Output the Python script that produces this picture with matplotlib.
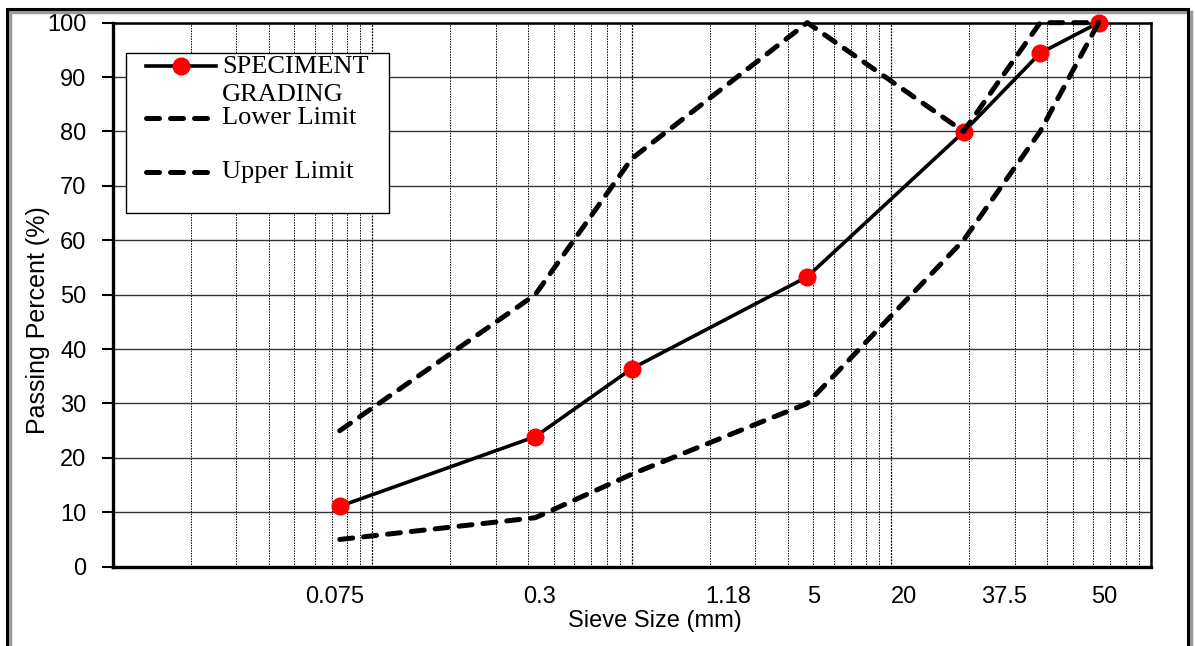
import matplotlib.pyplot as plt
from matplotlib.lines import Line2D
from matplotlib.patches import Rectangle

# sieve sizes (mm) and passing percent
sieve = [0.075, 0.425, 1.0, 4.75, 19.0, 37.5, 63.0]
specimen = [11.1, 23.9, 36.4, 53.3, 79.9, 94.4, 100.0]
lower = [5, 9, 17, 30, 60, 80, 100]
upper = [25, 50, 75, 100, 80, 100, 100]

tick_labels = ["0.075", "0.3", "1.18", "5", "20", "37.5", "50"]
tick_pos = [0.0716, 0.44, 2.35, 5.02, 11.25, 27.3, 66.1]
legend_labels = ["SPECIMENT\nGRADING", "Lower Limit", "Upper Limit"]

sans = ["Liberation Sans", "DejaVu Sans"]
serif = ["Liberation Serif", "DejaVu Serif"]

fig = plt.figure(figsize=(11.95, 6.46), dpi=100)
ax = fig.add_axes([0.0943, 0.1228, 0.8686, 0.8421])

# outer frame with a little shadow
fig.patches.append(Rectangle((10 / 1195, -0.02), 1181 / 1195, (646 - 12) / 646 + 0.02,
                             transform=fig.transFigure, fill=False, ec="#9a9a9a", lw=2.5, zorder=0))
fig.patches.append(Rectangle((7 / 1195, -0.02), 1181 / 1195, (646 - 9) / 646 + 0.02,
                             transform=fig.transFigure, fill=False, ec="black", lw=2.2, zorder=1))

dash = dict(ls=(0, (2.6, 2.2)), lw=3.6, color="black", dash_capstyle="round", clip_on=False)
ax.plot(sieve, specimen, color="black", lw=2.6, marker="o", ms=12, mfc="red", mec="red",
        clip_on=False, zorder=5)
ax.plot(sieve, lower, zorder=6, **dash)
ax.plot(sieve, upper, zorder=6, **dash)

ax.set_xscale("log")
ax.set_xlim(0.01, 100)
ax.set_ylim(0, 100)
ax.set_yticks(range(0, 101, 10))
ax.grid(True, which="major", axis="y", color="#333333", lw=1.0, ls="-")
ax.set_axisbelow(True)

# vertical log grid: decades a bit stronger than the sub-decade lines
for dec in [0.01, 0.1, 1, 10]:
    for k in range(1, 10):
        v = dec * k
        if v == 0.01:
            continue
        if k == 1:
            ax.axvline(v, color="black", lw=0.9, ls=(0, (1.5, 1)), zorder=0.5)
        else:
            ax.axvline(v, color="black", lw=0.7, ls=(0, (1.5, 1.2)), zorder=0.5)

ax.set_xticks(tick_pos)
ax.set_xticklabels(tick_labels, family=sans, fontsize=17)
ax.set_xticks([], minor=True)
ax.tick_params(axis="x", which="both", length=0, pad=14)
ax.tick_params(axis="y", length=8, width=1.5, direction="out", pad=11, labelsize=17)
for lab in ax.get_yticklabels():
    lab.set_family(sans)

ax.spines["left"].set_linewidth(2.4)
ax.spines["bottom"].set_linewidth(2.4)
ax.spines["top"].set_linewidth(1.8)
ax.spines["right"].set_linewidth(1.8)

ax.set_xlabel("Sieve Size (mm)", family=sans, fontsize=17)
ax.xaxis.set_label_coords(0.5225, -0.0805)
ax.set_ylabel("Passing Percent (%)", family=sans, fontsize=18)
ax.yaxis.set_label_coords(-0.060, 0.4535)

# legend box
ax.add_patch(Rectangle((0.0125, 0.650), 0.2537, 0.2938, transform=ax.transAxes,
                       fc="white", ec="black", lw=1.0, zorder=8))
ax.add_line(Line2D([0.0321, 0.0996], [0.9204, 0.9204], transform=ax.transAxes, color="black",
                   lw=2.6, zorder=9))
ax.add_line(Line2D([0.0658], [0.9204], transform=ax.transAxes, marker="o", ms=12,
                   mfc="red", mec="red", zorder=10))
for yy in [0.8245, 0.7257]:
    ax.add_line(Line2D([0.0321, 0.0996], [yy, yy], transform=ax.transAxes, zorder=9, **dash))
ax.text(0.1053, 0.8928, legend_labels[0], transform=ax.transAxes, family=serif, fontsize=19,
        va="center", ha="left", linespacing=1.3, zorder=10)
ax.text(0.1053, 0.8245, legend_labels[1], transform=ax.transAxes, family=serif, fontsize=19,
        va="center", ha="left", zorder=10)
ax.text(0.1053, 0.7257, legend_labels[2], transform=ax.transAxes, family=serif, fontsize=19,
        va="center", ha="left", zorder=10)

fig.savefig("out.png", dpi=100)
